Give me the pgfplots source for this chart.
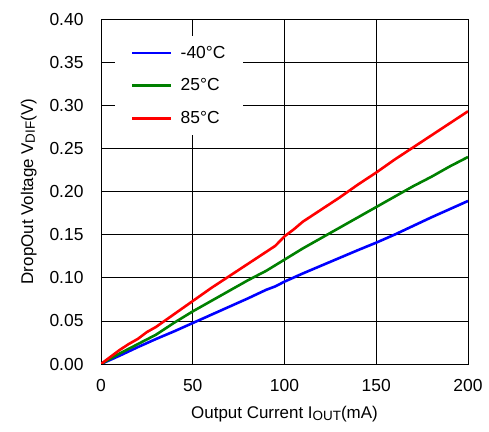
\documentclass[border=0pt]{standalone}
\usepackage{pgfplots}
\pgfplotsset{compat=1.18}
\usepackage{fontspec}
\setmainfont{Liberation Sans}
\definecolor{lnblue}{RGB}{0,0,255}
\definecolor{lngreen}{RGB}{0,128,0}
\definecolor{lnred}{RGB}{255,0,0}
\begin{document}
\begin{tikzpicture}
\path[use as bounding box] (0,0) rectangle (489bp,432bp);
\begin{axis}[
  at={(101bp,68bp)}, anchor=south west,
  scale only axis, width=367bp, height=345bp,
  xmin=0, xmax=200, ymin=0, ymax=0.40,
  xtick={0,50,100,150,200},
  ytick={0,0.05,0.10,0.15,0.20,0.25,0.30,0.35,0.40},
  yticklabel style={xshift=-14bp, /pgf/number format/fixed, /pgf/number format/fixed zerofill, /pgf/number format/precision=2},
  /pgf/number format/assume math mode=true,
  tick label style={font=\fontsize{17.5}{20}\selectfont},
  xticklabel style={yshift=-12bp},
  label style={font=\fontsize{17}{20}\selectfont},
  grid=major,
  major grid style={black, line width=0.7pt},
  axis line style={black, line width=0.9pt},
  major tick length=0pt,
  xlabel={Output Current I{\fontsize{13.5}{15}\selectfont\raisebox{-0.15ex}{OUT}}(mA)},
  ylabel={DropOut Voltage V{\fontsize{13.5}{15}\selectfont\raisebox{-0.25ex}{DIF}}(V)},
  xlabel style={yshift=-8bp},
  ylabel style={yshift=6bp},
  legend style={at={(0.038,0.951)}, anchor=north west, draw=none, fill=white,
    font=\fontsize{17.5}{20}\selectfont, row sep=15bp, inner xsep=16bp, inner ysep=8bp},
  legend cell align=left,
  legend image code/.code={\draw[#1, line width=2.6pt] (0bp,0bp) -- (39bp,0bp); \path (45bp,0bp);},
]
\addplot[color=lnblue, line width=2.6pt] coordinates {
(0,0) (10,0.0095) (20,0.0195) (30,0.029) (40,0.038) (50,0.0475) (60,0.057) (70,0.0665) (80,0.076) (90,0.086) (95,0.090) (100,0.0955) (110,0.105) (120,0.114) (130,0.123) (140,0.132) (150,0.1407) (160,0.150) (170,0.160) (180,0.170) (190,0.1795) (200,0.189)
};
\addlegendentry{-40°C}
\addplot[color=lngreen, line width=2.6pt] coordinates {
(0,0) (10,0.012) (20,0.023) (30,0.034) (40,0.048) (50,0.061) (60,0.073) (70,0.085) (80,0.097) (90,0.108) (100,0.121) (110,0.134) (120,0.146) (130,0.158) (140,0.170) (150,0.182) (160,0.194) (170,0.206) (180,0.217) (190,0.229) (200,0.240)
};
\addlegendentry{25°C}
\addplot[color=lnred, line width=2.6pt] coordinates {
(0,0) (5,0.008) (10,0.016) (15,0.023) (20,0.029) (25,0.037) (30,0.043) (40,0.058) (50,0.073) (60,0.088) (70,0.102) (80,0.116) (90,0.130) (95,0.137) (100,0.148) (105,0.156) (110,0.165) (120,0.179) (130,0.193) (140,0.208) (150,0.222) (160,0.237) (170,0.251) (180,0.265) (190,0.279) (200,0.293)
};
\addlegendentry{85°C}
\end{axis}
\end{tikzpicture}
\end{document}
